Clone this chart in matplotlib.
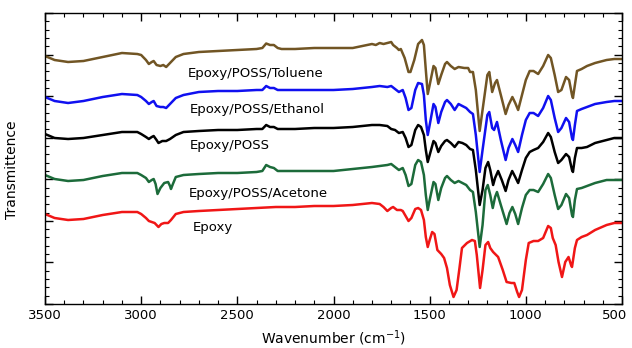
import matplotlib
matplotlib.use("Agg")
import matplotlib.pyplot as plt
import matplotlib.transforms as mtransforms
from matplotlib.ticker import MultipleLocator, NullFormatter

# ---------------- data (arbitrary transmittance units, offset spectra) ----------------
wn_toluene = [3500, 3450, 3380, 3300, 3200, 3100, 3020, 3000, 2975, 2960, 2945, 2935, 2920, 2900, 2885, 2870,
              2850, 2820, 2780, 2700, 2600, 2500, 2400, 2370, 2350, 2330, 2310, 2290, 2270, 2200, 2100, 2000,
              1900, 1850, 1800, 1780, 1760, 1740, 1720, 1700, 1690, 1670, 1660, 1650, 1630, 1610, 1600, 1580,
              1560, 1540, 1530, 1520, 1510, 1500, 1480, 1470, 1455, 1440, 1420, 1410, 1390, 1370, 1350, 1320,
              1300, 1290, 1275, 1260, 1240, 1225, 1200, 1190, 1175, 1160, 1150, 1130, 1105, 1090, 1070, 1055,
              1040, 1020, 1000, 980, 960, 936, 910, 884, 870, 850, 832, 815, 791, 775, 760, 755, 745, 734,
              710, 682, 640, 580, 540, 500]
ypx_toluene = [56, 60, 62, 61, 57, 53, 54, 55, 60, 64, 62, 61, 65, 66, 65, 67,
               63, 57, 54, 52, 51, 50, 49, 48, 43.5, 45, 45, 48, 49, 49, 48, 48,
               48, 46, 44, 45, 43, 44, 43, 42, 45, 48, 50, 49, 58, 72, 72, 60,
               44, 40, 45, 70, 94, 85, 66, 68, 84, 75, 64, 62, 66, 69, 67, 68,
               68, 72, 72, 90, 131, 110, 75, 72, 92, 83, 80, 95, 114, 105, 97, 103,
               110, 95, 80, 71, 71, 74, 66, 55, 58, 75, 92, 90, 77, 80, 95, 98, 85, 71,
               69, 66, 63, 60, 59, 59]

wn_ethanol = [3500, 3450, 3380, 3300, 3200, 3100, 3020, 3000, 2975, 2960, 2945, 2935, 2920, 2900, 2885, 2870,
              2850, 2820, 2780, 2700, 2600, 2500, 2400, 2370, 2350, 2330, 2310, 2290, 2200, 2100, 2000, 1900,
              1850, 1800, 1760, 1720, 1700, 1680, 1660, 1640, 1625, 1610, 1595, 1575, 1560, 1540, 1530, 1520,
              1510, 1500, 1480, 1470, 1455, 1440, 1420, 1410, 1390, 1370, 1350, 1330, 1310, 1290, 1275, 1260,
              1240, 1225, 1200, 1190, 1175, 1165, 1150, 1130, 1105, 1090, 1070, 1055, 1040, 1020, 1000, 980,
              960, 936, 910, 884, 870, 850, 832, 815, 791, 775, 760, 755, 745, 734, 710, 682, 640, 580, 540, 500]
ypx_ethanol = [97, 101, 103, 101, 97, 94, 95, 97, 101, 104, 102, 101, 106, 107, 107, 108,
               104, 98, 95, 92, 91, 91, 90, 90, 86, 88, 88, 90, 90, 90, 90, 89,
               88, 87, 86, 87, 86, 89, 92, 90, 98, 110, 108, 90, 83, 84, 95, 120,
               135, 125, 104, 107, 123, 112, 102, 100, 104, 110, 104, 106, 108, 112, 114, 135,
               172, 150, 115, 112, 128, 130, 122, 140, 160, 148, 139, 145, 152, 135, 120, 113,
               113, 116, 108, 96, 100, 118, 132, 128, 118, 122, 138, 140, 125, 111, 109, 107, 104, 102, 101, 101]

wn_poss = [3500, 3450, 3380, 3300, 3200, 3100, 3020, 3000, 2975, 2960, 2945, 2935, 2920, 2910, 2890, 2870,
           2850, 2820, 2780, 2700, 2600, 2500, 2400, 2370, 2350, 2330, 2310, 2290, 2200, 2100, 2000, 1900,
           1850, 1800, 1760, 1720, 1700, 1680, 1660, 1640, 1625, 1610, 1595, 1575, 1560, 1545, 1530, 1520,
           1510, 1500, 1480, 1470, 1455, 1440, 1420, 1410, 1390, 1370, 1350, 1330, 1310, 1290, 1275, 1260,
           1240, 1225, 1210, 1196, 1185, 1170, 1160, 1144, 1125, 1105, 1090, 1071, 1055, 1040, 1020, 1000,
           980, 960, 936, 910, 884, 870, 850, 832, 815, 791, 775, 760, 755, 745, 734, 710, 682, 640, 580,
           540, 500]
ypx_poss = [134, 138, 139, 138, 135, 132, 132, 134, 137, 139, 137, 136, 140, 143, 141, 141,
            139, 135, 132, 131, 130, 130, 129, 129, 125, 127, 127, 129, 129, 128, 128, 127,
            126, 125, 125, 126, 129, 130, 133, 132, 138, 147, 145, 130, 125, 127, 135, 150,
            162, 155, 141, 143, 152, 146, 141, 140, 143, 147, 142, 143, 145, 149, 150, 170,
            205, 190, 168, 162, 170, 185, 178, 171, 180, 191, 180, 171, 177, 183, 170, 158,
            152, 150, 148, 142, 133, 137, 152, 163, 160, 154, 157, 170, 172, 158, 148, 148, 147, 143, 140,
            138, 138]

wn_acetone = [3500, 3450, 3380, 3300, 3200, 3100, 3020, 3000, 2975, 2960, 2945, 2935, 2925, 2915, 2900, 2880,
              2860, 2850, 2845, 2835, 2820, 2780, 2700, 2600, 2500, 2400, 2370, 2350, 2330, 2310, 2290, 2200,
              2100, 2000, 1900, 1850, 1800, 1760, 1720, 1700, 1680, 1660, 1640, 1625, 1610, 1595, 1575, 1560,
              1545, 1530, 1520, 1510, 1500, 1480, 1470, 1455, 1440, 1420, 1410, 1390, 1370, 1350, 1330, 1310,
              1290, 1275, 1260, 1240, 1225, 1210, 1198, 1185, 1172, 1160, 1150, 1130, 1100, 1085, 1070, 1055,
              1040, 1020, 1000, 980, 960, 936, 910, 884, 870, 850, 832, 815, 791, 775, 760, 755, 745, 734,
              710, 682, 640, 580, 540, 500]
ypx_acetone = [175, 179, 181, 180, 176, 173, 173, 175, 178, 182, 180, 179, 184, 194, 188, 183,
               182, 186, 189, 184, 177, 175, 174, 173, 173, 172, 171, 165, 167, 168, 171, 171,
               171, 171, 169, 168, 167, 166, 165, 164, 167, 170, 168, 175, 186, 184, 165, 160,
               162, 175, 195, 210, 200, 182, 184, 200, 188, 178, 176, 180, 183, 181, 183, 185,
               190, 192, 212, 247, 225, 190, 185, 195, 208, 197, 192, 205, 224, 213, 207, 214,
               224, 208, 195, 190, 190, 192, 184, 174, 178, 195, 209, 205, 194, 198, 215, 217, 200, 189,
               188, 186, 183, 180, 180, 180]

wn_epoxy = [3500, 3450, 3380, 3300, 3200, 3100, 3020, 3000, 2975, 2960, 2945, 2930, 2910, 2895, 2880, 2860,
            2845, 2820, 2780, 2700, 2600, 2500, 2400, 2300, 2200, 2100, 2000, 1900, 1850, 1800, 1760, 1740,
            1720, 1700, 1690, 1670, 1650, 1640, 1625, 1610, 1595, 1575, 1560, 1545, 1530, 1520, 1510, 1500,
            1487, 1475, 1460, 1440, 1425, 1410, 1395, 1376, 1360, 1345, 1332, 1306, 1280, 1265, 1255, 1238,
            1225, 1210, 1196, 1185, 1170, 1144, 1120, 1100, 1075, 1060, 1045, 1035, 1020, 1000, 985, 960,
            936, 910, 884, 870, 860, 845, 830, 812, 795, 778, 765, 760, 745, 734, 710, 682, 640, 580, 540, 500]
ypx_epoxy = [214, 218, 220, 219, 215, 212, 212, 214, 218, 221, 222, 223, 227, 224, 223, 223,
             220, 214, 212, 211, 210, 209, 208, 207, 207, 206, 206, 205, 204, 203, 204, 207,
             211, 208, 207, 210, 210, 211, 216, 221, 218, 209, 208, 210, 220, 237, 247, 240,
             232, 234, 250, 254, 258, 268, 285, 297, 290, 268, 248, 243, 240, 241, 255, 288,
             270, 245, 242, 248, 252, 257, 270, 282, 283, 283, 292, 297, 290, 260, 243, 241,
             241, 238, 226, 228, 238, 245, 262, 277, 262, 257, 265, 267, 248, 240, 237, 235, 230, 225, 223, 223]

labels = ["Epoxy/POSS/Toluene", "Epoxy/POSS/Ethanol", "Epoxy/POSS", "Epoxy/POSS/Acetone", "Epoxy"]
colors = ["#715524", "#1010f0", "#000000", "#1c6b3a", "#f01616"]
label_wn = [2760, 2745, 2745, 2750, 2730]
label_y = [231, 194, 158, 111, 76]

BASE = 304  # baseline for converting read values to transmittance units
series = [(wn_toluene, ypx_toluene), (wn_ethanol, ypx_ethanol), (wn_poss, ypx_poss),
          (wn_acetone, ypx_acetone), (wn_epoxy, ypx_epoxy)]

fig = plt.figure(figsize=(6.32, 3.48), dpi=100)
ax = fig.add_axes([45 / 632, 44 / 348, 577 / 632, 291 / 348])

for (w, yp), c in zip(series, colors):
    t = [BASE - v for v in yp]
    ax.plot(w, t, color=c, lw=1.8, solid_joinstyle="round", solid_capstyle="round")

for txt, lw_, ly in zip(labels, label_wn, label_y):
    ax.text(lw_, ly, txt, fontsize=9.5, va="center", ha="left", family="DejaVu Sans")

ax.set_xlim(3500, 500)
ax.set_ylim(0, 291)
ax.xaxis.set_major_locator(MultipleLocator(500))
ax.xaxis.set_minor_locator(MultipleLocator(100))
ax.yaxis.set_major_locator(MultipleLocator(291 / 7))
ax.yaxis.set_minor_locator(MultipleLocator(291 / 35))
ax.yaxis.set_major_formatter(NullFormatter())
ax.tick_params(which="both", direction="in", top=True, right=True, labelsize=9.5)
ax.tick_params(which="major", length=6, width=1)
ax.tick_params(which="minor", length=3, width=0.8)
for s in ax.spines.values():
    s.set_linewidth(1.0)

ax.set_xlabel("Wavenumber (cm$^{-1}$)", fontsize=10, labelpad=5)
ax.set_ylabel("Transmittence", fontsize=10)
ax.yaxis.set_label_coords(-0.045, 0.46)

fig.canvas.draw()
for lab in ax.get_xticklabels():
    if lab.get_text() in ("500",):
        lab.set_transform(lab.get_transform() + mtransforms.ScaledTranslation(-7 / 100, 0, fig.dpi_scale_trans))

fig.savefig("out.png", dpi=100)
